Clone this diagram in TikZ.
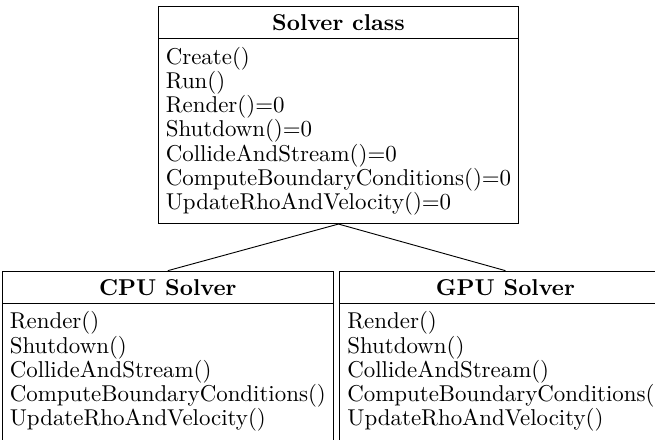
\documentclass[tikz,border=0pt]{standalone}
\usepackage{amsmath}
\usepackage{tikz}
\usetikzlibrary{calc,positioning,shapes.multipart}
\tikzstyle{umlclass} = [
	rectangle split,
	rectangle split parts = 2,
	rectangle split part align = {center,left},
	align = left,
	font = \fontsize{10}{10.6}\selectfont,
	draw
	]
\tikzstyle{deriv} = [
	-,
	draw
	]
\begin{document}
\begin{tikzpicture}
		\useasboundingbox (-147.8pt,2.62pt) rectangle (138.2pt,-189.5pt);
		\clip (-147.8pt,2.62pt) rectangle (138.2pt,-189.5pt);
		\node[umlclass, anchor=north] (solver) at (0,0) {\textbf{Solver class}
			\nodepart{second}Create()\\Run()\\Render()=0\\Shutdown()=0\\CollideAndStream()=0\\ComputeBoundaryConditions()=0\\UpdateRhoAndVelocity()=0};
		\node[umlclass, below left=20.35pt and 1.97pt of solver.south] (cpu) {\textbf{CPU Solver}
			\nodepart{second}Render()\\Shutdown()\\CollideAndStream()\\ComputeBoundaryConditions()\\UpdateRhoAndVelocity()\\ }; 
		\node[umlclass, below right=20.35pt and 0.35pt of solver.south] (gpu) {\textbf{GPU Solver}
			\nodepart{second}Render()\\Shutdown()\\CollideAndStream()\\ComputeBoundaryConditions()\\UpdateRhoAndVelocity()\\ };
		\draw[deriv] (solver.south) -- (cpu.north);
		\draw[deriv] (solver.south) -- (gpu.north);
	\end{tikzpicture}
\end{document}
